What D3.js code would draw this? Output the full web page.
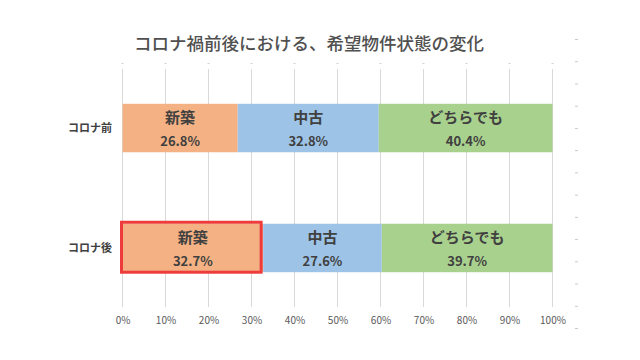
<!DOCTYPE html>
<html><head><meta charset="utf-8">
<script src="https://cdn.jsdelivr.net/npm/d3@7"></script>
<style>body{margin:0;background:#fff}svg{display:block}text{font-family:"Noto Sans CJK JP","Noto Sans",sans-serif}</style>
</head><body>
<svg id="c" width="640" height="360"></svg>
<script>
const title = "コロナ禍前後における、希望物件状態の変化";
const categories = ["コロナ前", "コロナ後"];
const seriesNames = ["新築", "中古", "どちらでも"];
const seriesColors = ["#F4B183", "#9DC3E6", "#A9D18E"];
const newBuild = [26.8, 32.7];
const used = [32.8, 27.6];
const either = [40.4, 39.7];
const tickValues = [0, 10, 20, 30, 40, 50, 60, 70, 80, 90, 100];
const highlight = {category: "コロナ後", series: "新築"};

const svg = d3.select("#c");
const x = d3.scaleLinear().domain([0, 100]).range([122.5, 552.5]);
const y = d3.scaleBand().domain(categories).range([69, 307]).paddingInner(0.596).paddingOuter(0.29);
const rightMarks = d3.range(14);
const ym = d3.scaleLinear().domain([0, 13]).range([39.5, 328.5]);

// right faint dashes
svg.append("g").selectAll("line").data(rightMarks).join("line")
  .attr("x1", 575).attr("x2", 578).attr("y1", d => ym(d)).attr("y2", d => ym(d))
  .attr("stroke", "#c8c8c8").attr("stroke-width", 1);

// top faint marks
svg.append("g").selectAll("line").data(tickValues).join("line")
  .attr("x1", d => x(d) - 1).attr("x2", d => x(d) + 1).attr("y1", 63.5).attr("y2", 63.5)
  .attr("stroke", "#d0d0d0");

// gridlines
svg.append("g").selectAll("line").data(tickValues).join("line")
  .attr("x1", d => x(d)).attr("x2", d => x(d)).attr("y1", 69).attr("y2", 307)
  .attr("stroke", "#d9d9d9").attr("stroke-width", 1);

// title
svg.append("text").attr("x", 309).attr("y", 50).attr("text-anchor", "middle")
  .attr("font-size", 17.5).attr("font-weight", 500).attr("fill", "#505050").text(title);

// stacked data
const rows = categories.map((c, i) => ({cat: c, vals: [newBuild[i], used[i], either[i]]}));
const stack = d3.stack().keys([0, 1, 2]).value((d, k) => d.vals[k]);
const stacked = stack(rows);

const gBars = svg.append("g");
stacked.forEach((layer, k) => {
  layer.forEach(seg => {
    const cat = seg.data.cat;
    const x0 = x(seg[0]), x1 = x(seg[1]);
    const yy = y(cat), h = y.bandwidth();
    gBars.append("rect").attr("x", x0).attr("y", yy).attr("width", x1 - x0).attr("height", h)
      .attr("fill", seriesColors[k]);
    const cx = (x0 + x1) / 2;
    gBars.append("text").attr("x", cx).attr("y", yy + 19).attr("text-anchor", "middle")
      .attr("font-size", 15).attr("font-weight", "bold").attr("fill", "#404040")
      .text(seriesNames[k]);
    gBars.append("text").attr("x", cx).attr("y", yy + 42).attr("text-anchor", "middle")
      .attr("font-size", 13).attr("font-weight", "bold").attr("fill", "#404040")
      .text(seg.data.vals[k].toFixed(1) + "%");
    if (cat === highlight.category && seriesNames[k] === highlight.series) {
      svg.append("rect").attr("x", x0 - 1).attr("y", yy - 1.5).attr("width", x1 - x0 - 1).attr("height", h + 1.5)
        .attr("fill", "none").attr("stroke", "#EE3B3B").attr("stroke-width", 3);
    }
  });
});

// category labels
svg.append("g").selectAll("text").data(categories).join("text")
  .attr("x", 112).attr("y", d => y(d) + y.bandwidth() / 2 + 4).attr("text-anchor", "end")
  .attr("font-size", 11).attr("font-weight", "bold").attr("fill", "#404040").text(d => d);

// x axis labels
const ax = svg.append("g").attr("transform", "translate(0,307)")
  .call(d3.axisBottom(x).tickValues(tickValues).tickFormat(d => d + "%").tickSize(0).tickPadding(10));
ax.select(".domain").remove();
ax.selectAll("text").attr("font-size", 10).attr("fill", "#595959")
  .attr("font-family", "'Liberation Sans', Arial, sans-serif");
</script>
</body></html>
